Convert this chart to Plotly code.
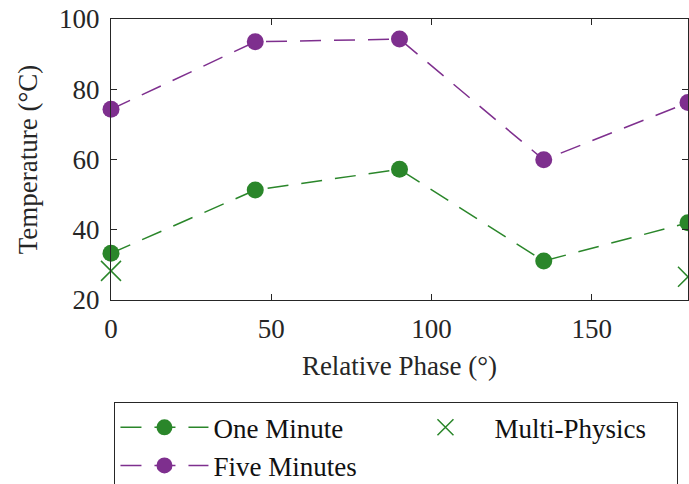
import plotly.graph_objects as go

phase = [0, 45, 90, 135, 180]
one_minute = [33.3, 51.3, 57.2, 31.1, 42.0]
five_minutes = [74.3, 93.5, 94.3, 59.9, 76.2]
mp_phase = [0, 180]
multi_physics = [28.3, 26.6]

GREEN = "#2A862A"
PURPLE = "#7E2F8E"
AX = "#262626"
FONT = "'Liberation Serif', 'DejaVu Serif', serif"

fig = go.Figure()
fig.add_trace(go.Scatter(
    x=phase, y=one_minute, name="One Minute", mode="lines+markers",
    line=dict(color=GREEN, width=1.5, dash="21px,13px"),
    marker=dict(color=GREEN, size=17, symbol="circle"), cliponaxis=False))
fig.add_trace(go.Scatter(
    x=mp_phase, y=multi_physics, name="Multi-Physics", mode="markers",
    marker=dict(color=GREEN, size=20, symbol="x-thin",
                line=dict(color=GREEN, width=1.5)), cliponaxis=False))
fig.add_trace(go.Scatter(
    x=phase, y=five_minutes, name="Five Minutes", mode="lines+markers",
    line=dict(color=PURPLE, width=1.5, dash="21px,13px"),
    marker=dict(color=PURPLE, size=17, symbol="circle"), cliponaxis=False))

axis_common = dict(
    showline=True, linecolor=AX, linewidth=1, mirror="ticks",
    ticks="inside", ticklen=6, tickcolor=AX, tickwidth=1,
    showgrid=False, zeroline=False,
    tickfont=dict(family=FONT, size=27, color=AX),
)

fig.update_layout(
    width=689, height=484,
    margin=dict(l=111, r=1, t=19, b=184, autoexpand=False),
    paper_bgcolor="white", plot_bgcolor="white",
    font=dict(family=FONT, size=27, color=AX),
    xaxis=dict(range=[0, 180], tickvals=[0, 50, 100, 150],
               title=dict(text="Relative Phase (°)", font=dict(family=FONT, size=27, color=AX), standoff=12),
               ticklabelstandoff=5, **axis_common),
    yaxis=dict(range=[20, 100], tickvals=[20, 40, 60, 80, 100],
               title=dict(text="Temperature (°C)", font=dict(family=FONT, size=27, color=AX), standoff=13),
               ticklabelstandoff=5, **axis_common),
    showlegend=True,
    legend=dict(
        orientation="h", x=0.006, xanchor="left", y=-0.364, yanchor="top",
        bgcolor="white", bordercolor=AX, borderwidth=1,
        font=dict(family=FONT, size=27, color="#111111"),
        itemwidth=88, entrywidth=178, entrywidthmode="pixels",
        traceorder="normal", tracegroupgap=0,
    ),
)

fig.write_html("out.html")
